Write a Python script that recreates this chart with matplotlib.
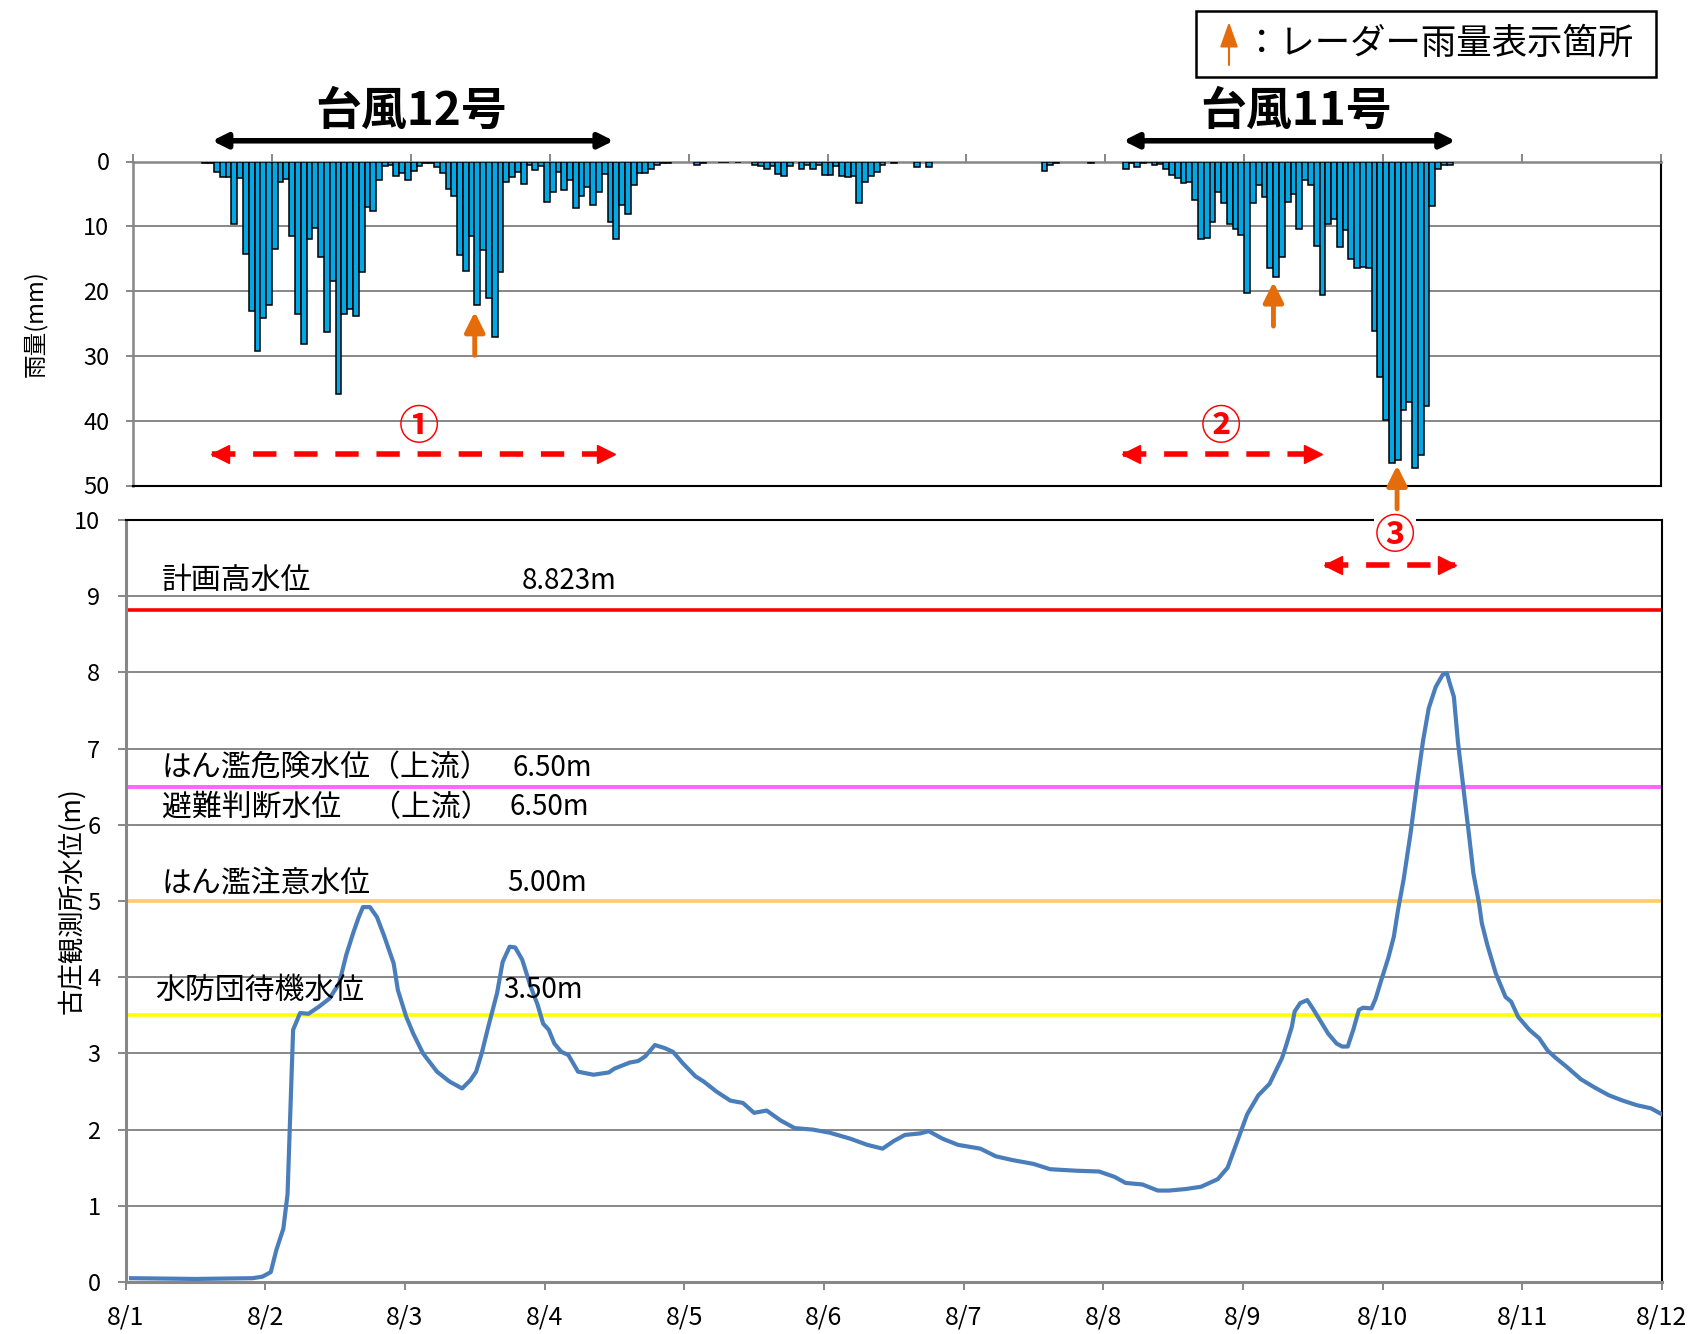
import numpy as np
import matplotlib
matplotlib.use('Agg')
import matplotlib.pyplot as plt
from matplotlib.patches import Rectangle, FancyArrowPatch
from matplotlib.transforms import offset_copy

plt.rcParams['font.family'] = ['Noto Sans CJK JP', 'DejaVu Sans']

# x tick labels (one per day)
days = ['8/1', '8/2', '8/3', '8/4', '8/5', '8/6', '8/7', '8/8', '8/9', '8/10', '8/11', '8/12']

# hourly rainfall (mm), 24 values per day from 8/1 0:00
rain_0801 = [0, 0, 0, 0, 0, 0, 0, 0, 0, 0, 0, 0,
             0.2, 0.2, 1.6, 2.4, 2.4, 9.7, 2.5, 14.2, 23.0, 29.2, 24.1, 22.2]
rain_0802 = [13.5, 3.1, 2.7, 11.5, 23.6, 28.1, 11.9, 10.3, 14.7, 26.3, 18.5, 35.9,
             23.5, 22.8, 23.8, 17.0, 7.0, 7.7, 2.9, 0.7, 0.6, 2.3, 1.8, 2.8]
rain_0803 = [1.5, 0.7, 0.3, 0.2, 0.8, 1.8, 4.2, 5.4, 14.5, 16.9, 11.5, 22.2,
             13.6, 21.0, 27.1, 17.1, 3.2, 2.4, 1.6, 3.4, 0.6, 1.3, 0.7, 6.3]
rain_0804 = [4.7, 1.6, 4.4, 2.8, 7.2, 5.4, 4.0, 6.7, 4.7, 2.0, 9.4, 12.0,
             6.7, 8.1, 3.6, 1.8, 1.8, 1.1, 0.6, 0.3, 0.2, 0, 0, 0]
rain_0805 = [0, 0.6, 0.2, 0, 0, 0.1, 0.1, 0, 0.1, 0, 0, 0.5,
             0.7, 1.2, 0.7, 1.9, 2.2, 0.7, 0, 1.1, 0.6, 1.1, 0.6, 2.1]
rain_0806 = [2.1, 0.7, 2.2, 2.4, 2.2, 6.4, 3.2, 2.2, 1.6, 0.6, 0, 0.3,
             0, 0, 0, 0.8, 0, 0.8, 0, 0, 0, 0, 0, 0]
rain_0807 = [0, 0, 0, 0, 0, 0, 0, 0, 0, 0, 0, 0,
             0, 1.5, 0.5, 0.2, 0, 0, 0, 0, 0, 0.2, 0, 0]
rain_0808 = [0, 0, 0, 1.2, 0.3, 0.8, 0.3, 0.1, 0.6, 0.4, 1.1, 2.1,
             2.6, 3.3, 3.2, 6.0, 12.0, 11.8, 9.3, 4.7, 6.4, 9.7, 10.4, 11.3]
rain_0809 = [20.3, 6.4, 3.6, 5.5, 16.4, 17.9, 14.7, 6.3, 5.0, 10.4, 2.8, 3.7,
             13.1, 20.6, 9.7, 8.8, 13.2, 10.5, 15.0, 16.4, 16.3, 16.4, 26.1, 33.2]
rain_0810 = [39.9, 46.6, 46.1, 38.4, 37.1, 47.3, 45.3, 37.7, 6.8, 1.1, 0.5, 0.5,
             0, 0, 0, 0, 0, 0, 0, 0, 0, 0, 0, 0]
rain_0811 = [0] * 24

# water level at 古庄 (m), time in days after 8/1 0:00
level_t = [0.04, 0.50, 0.91, 0.98, 1.04, 1.08, 1.13, 1.16, 1.20, 1.25,
           1.31, 1.39, 1.46, 1.53, 1.58, 1.63, 1.67, 1.70, 1.75, 1.80,
           1.85, 1.92, 1.95, 2.01, 2.06, 2.13, 2.23, 2.32, 2.41, 2.47,
           2.51, 2.55, 2.60, 2.66, 2.70, 2.75, 2.79, 2.84, 2.90, 2.95,
           2.99, 3.03, 3.07, 3.12, 3.17, 3.24, 3.35, 3.46, 3.50, 3.61,
           3.67, 3.72, 3.79, 3.86, 3.92, 3.99, 4.08, 4.14, 4.23, 4.33,
           4.42, 4.50, 4.59, 4.69, 4.79, 4.92, 5.04, 5.19, 5.31, 5.42,
           5.50, 5.58, 5.69, 5.75, 5.85, 5.96, 6.12, 6.23, 6.35, 6.50,
           6.62, 6.81, 6.97, 7.08, 7.16, 7.28, 7.39, 7.47, 7.59, 7.70,
           7.82, 7.89, 7.97, 8.03, 8.11, 8.19, 8.28, 8.31, 8.35, 8.37,
           8.41, 8.46, 8.50, 8.55, 8.61, 8.67, 8.71, 8.75, 8.79, 8.83,
           8.86, 8.92, 8.95, 8.99, 9.04, 9.08, 9.11, 9.15, 9.20, 9.25,
           9.29, 9.33, 9.38, 9.43, 9.46, 9.48, 9.51, 9.54, 9.58, 9.62,
           9.65, 9.69, 9.71, 9.75, 9.81, 9.88, 9.92, 9.97, 10.05, 10.12,
           10.18, 10.24, 10.32, 10.42, 10.52, 10.62, 10.72, 10.82, 10.92, 11.0]
level_v = [0.05, 0.04, 0.05, 0.07, 0.13, 0.42, 0.70, 1.15, 3.31, 3.53,
           3.52, 3.62, 3.72, 3.92, 4.29, 4.58, 4.79, 4.92, 4.92, 4.79,
           4.55, 4.18, 3.83, 3.48, 3.26, 3.00, 2.76, 2.63, 2.54, 2.65,
           2.76, 3.00, 3.37, 3.79, 4.20, 4.40, 4.39, 4.23, 3.88, 3.64,
           3.39, 3.31, 3.13, 3.02, 2.98, 2.76, 2.72, 2.75, 2.80, 2.88,
           2.90, 2.96, 3.11, 3.07, 3.02, 2.87, 2.70, 2.63, 2.50, 2.38,
           2.35, 2.22, 2.25, 2.12, 2.02, 2.00, 1.96, 1.88, 1.80, 1.75,
           1.85, 1.93, 1.95, 1.98, 1.88, 1.80, 1.75, 1.65, 1.60, 1.55,
           1.48, 1.46, 1.45, 1.38, 1.30, 1.28, 1.20, 1.20, 1.22, 1.25,
           1.35, 1.50, 1.90, 2.20, 2.45, 2.60, 2.94, 3.11, 3.35, 3.55,
           3.66, 3.70, 3.59, 3.44, 3.26, 3.13, 3.09, 3.09, 3.31, 3.57,
           3.60, 3.59, 3.72, 3.96, 4.25, 4.53, 4.88, 5.28, 5.89, 6.59,
           7.11, 7.53, 7.81, 7.97, 7.99, 7.86, 7.68, 7.07, 6.46, 5.84,
           5.36, 4.97, 4.71, 4.42, 4.05, 3.74, 3.68, 3.48, 3.31, 3.20,
           3.04, 2.94, 2.82, 2.66, 2.55, 2.45, 2.38, 2.32, 2.28, 2.20]

# reference water levels
level_names = ['計画高水位', 'はん濫危険水位（上流）', '避難判断水位　（上流）',
               'はん濫注意水位', '水防団待機水位']
level_marks = ['8.823m', '6.50m', '6.50m', '5.00m', '3.50m']
level_values = [8.823, 6.5, 6.5, 5.0, 3.5]

GRID = '#878787'
W, H = 1688, 1334

def box(l, t, r, b):
    # pixel box (top-left origin) -> figure fraction rect
    return [l / W, 1 - b / H, (r - l) / W, (b - t) / H]

def red_span(ax, x0, x1, y):
    ax.plot([x0, x1], [y, y], color='red', lw=4, ls=(0, (4.2, 3.2)),
            clip_on=False, zorder=6)
    ax.plot([x0], [y], marker='<', ms=13, color='red', clip_on=False, zorder=6,
            transform=offset_copy(ax.transData, fig=fig, x=8, y=0, units='dots'))
    ax.plot([x1], [y], marker='>', ms=13, color='red', clip_on=False, zorder=6,
            transform=offset_copy(ax.transData, fig=fig, x=-8, y=0, units='dots'))

def radar_arrow(ax, x, y_tail, y_tip):
    ax.annotate('', xy=(x, y_tip), xytext=(x, y_tail), annotation_clip=False,
                arrowprops=dict(arrowstyle='-|>', color='#E46C0A', lw=3.5,
                                mutation_scale=30, shrinkA=0, shrinkB=0), zorder=7)

fig = plt.figure(figsize=(16.88, 13.34), dpi=100)

#%% water level chart
ax = fig.add_axes(box(125.5, 520, 1662, 1282))
ax.set_xlim(0, 11)
ax.set_ylim(0, 10)
ax.set_xticks(range(len(days)))
ax.set_xticklabels(days)
ax.set_yticks(range(11))
ax.grid(axis='y', color=GRID, lw=1.4)
ax.set_axisbelow(True)

colors = ['#FF0000', '#FF66FF', '#FF66FF', '#FFCC66', '#FFFF00']
for val, col in zip(level_values, colors):
    ax.axhline(val, color=col, lw=2.6, zorder=2)

ax.plot(level_t, level_v, color='#4A7EBB', lw=3.0, zorder=3)

label_y = [9.2, 6.75, 6.23, 5.24, 3.83]
label_x = [0.26, 0.26, 0.26, 0.26, 0.21]
mark_x = [2.84, 2.77, 2.75, 2.73, 2.70]
for name, mark, lx, mx, ly in zip(level_names, level_marks, label_x, mark_x, label_y):
    ax.text(lx, ly, name, fontsize=21.5, va='center', ha='left', zorder=4)
    ax.text(mx, ly, mark, fontsize=20, va='center', ha='left', zorder=4)

for s in ['left', 'bottom']:
    ax.spines[s].set_color(GRID)
    ax.spines[s].set_linewidth(2.2)
for s in ['top', 'right']:
    ax.spines[s].set_color('black')
    ax.spines[s].set_linewidth(1.5)
ax.tick_params(axis='both', direction='out', length=6, width=1.4, color=GRID)
ax.tick_params(axis='x', labelsize=18, pad=10)
ax.tick_params(axis='y', labelsize=17, pad=12)
ax.set_ylabel('古庄観測所水位(m)', fontsize=19)
ax.yaxis.set_label_coords(-0.026, 0.5)

# section ③
red_span(ax, 8.59, 9.52, 9.41)
ax.text(9.09, 9.79, '③', color='red', fontsize=29, fontweight='bold',
        ha='center', va='center', clip_on=False, zorder=8,
        bbox=dict(facecolor='white', edgecolor='none', pad=0.5))

#%% rainfall chart
ax2 = fig.add_axes(box(133, 161.5, 1661, 485.5))
rain = rain_0801 + rain_0802 + rain_0803 + rain_0804 + rain_0805 + rain_0806 \
    + rain_0807 + rain_0808 + rain_0809 + rain_0810 + rain_0811
hours = np.arange(len(rain)) / 24
rain = np.array(rain)
wet = rain > 0
ax2.bar(hours[wet], rain[wet], width=1 / 24, align='edge', color='#00A9E6',
        edgecolor='black', linewidth=1.1, zorder=3)
ax2.set_xlim(0, 11)
ax2.set_ylim(50, 0)
ax2.set_yticks(range(0, 51, 10))
ax2.xaxis.tick_top()
ax2.set_xticks(range(12))
ax2.tick_params(axis='x', labeltop=False, direction='out', length=6, width=1.4, color=GRID)
ax2.tick_params(axis='y', direction='out', length=5, width=1.4, color=GRID,
                labelsize=17, pad=12)
ax2.grid(axis='y', color=GRID, lw=1.4)
ax2.set_axisbelow(True)
for s in ['left', 'top']:
    ax2.spines[s].set_color(GRID)
    ax2.spines[s].set_linewidth(1.8)
for s in ['bottom', 'right']:
    ax2.spines[s].set_color('black')
    ax2.spines[s].set_linewidth(1.5)
ax2.set_ylabel('雨量(mm)', fontsize=17)
ax2.yaxis.set_label_coords(-0.056, 0.5)

# typhoon periods
for x0, x1, xc, title in [(0.57, 3.46, 2.0, '台風12号'), (7.13, 9.52, 8.37, '台風11号')]:
    ax2.annotate('', xy=(x1, -3.2), xytext=(x0, -3.2), annotation_clip=False,
                 arrowprops=dict(arrowstyle='<|-|>', color='black', lw=4,
                                 mutation_scale=22, shrinkA=0, shrinkB=0))
    ax2.text(xc, -7.6, title, fontsize=33, fontweight='bold', ha='center',
             va='center', clip_on=False)

red_span(ax2, 0.57, 3.46, 45.2)
red_span(ax2, 7.13, 8.55, 45.2)
ax2.text(2.06, 41.0, '①', color='red', fontsize=29, fontweight='bold',
         ha='center', va='center', zorder=6)
ax2.text(7.83, 41.0, '②', color='red', fontsize=29, fontweight='bold',
         ha='center', va='center', zorder=6)

radar_arrow(ax2, 2.46, 29.9, 23.2)
radar_arrow(ax2, 8.21, 25.4, 18.6)
radar_arrow(ax2, 9.10, 53.6, 46.9)

#%% legend box
fig.add_artist(Rectangle((1196 / W, 1 - 77 / H), (1656 - 1196) / W, (77 - 11) / H,
                         transform=fig.transFigure, facecolor='white',
                         edgecolor='black', lw=1.8))
fig.add_artist(FancyArrowPatch((1229 / W, 1 - 65 / H), (1229 / W, 1 - 22 / H),
                               transform=fig.transFigure,
                               arrowstyle='-|>,head_length=0.7,head_width=0.25',
                               mutation_scale=22, color='#E46C0A', lw=1.5,
                               shrinkA=0, shrinkB=0))
fig.text(1244 / W, 1 - 44 / H, '：レーダー雨量表示箇所', fontsize=25.5, va='center', ha='left')

fig.savefig('out.png', dpi=100)
